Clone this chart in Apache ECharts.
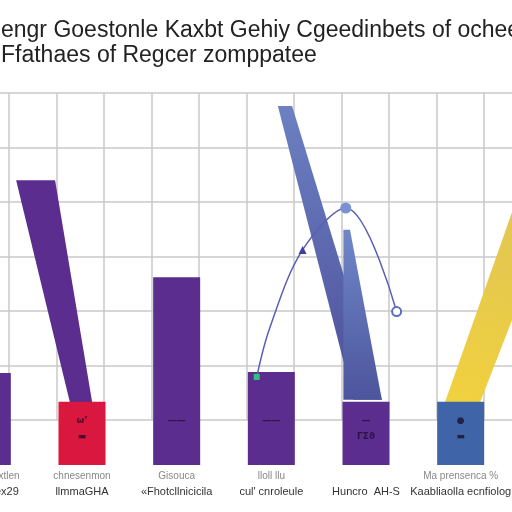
<!DOCTYPE html>
<html><head><meta charset="utf-8">
<script src="https://cdn.jsdelivr.net/npm/echarts@6/dist/echarts.min.js"></script>
<style>html,body{margin:0;padding:0;background:#fff}#c{width:512px;height:512px}</style>
</head><body><div id="c"></div>
<script>
const titleLines = ['engr Goestonle Kaxbt Gehiy Cgeedinbets of ocheee', 'Ffathaes of Regcer zomppatee'];
const labelTop = ['Grxhxheaxtlen', 'chnesenmon', 'Gisouca', 'lloll llu', '', 'Ma prensenca %'];
const labelBottom = ['Gnhdonex29', 'llmmaGHA', '\u00abFhotcllnicicila', "cul' cnroleule", 'Huncro  AH-S', 'Kaabliaolla ecnfiolog'];
const categories = labelTop.map((t, i) => t + '|' + labelBottom[i]);
const barValues = [24.7, 17, 50.5, 25, 17, 17];
const barColors = ['#5b2d8e', '#d9173f', '#5b2d8e', '#5b2d8e', '#5b2d8e', '#3f65a8'];
const barMarkTop = [' ', '\u03c9\u2019', '\u2014\u2014', '\u2014\u2014', '\u2014', '\u25cf'];
const barMarkBottom = [' ', '\u25ac', ' ', ' ', '\u0393\u03a3\u03d1', '\u25ac'];
// decorative slanted shapes (in grid-2 data units)
const slantPurple = [[1.15, 4.40], [1.97, 4.40], [2.75, 0.33], [2.28, 0.33]];
const slantBlue = [[6.66, 5.76], [6.96, 5.76], [8.85, 0.37], [8.25, 0.37]];
const slantBlueNarrow = [[8.04, 3.49], [8.18, 3.49], [8.85, 0.37], [8.04, 0.37]];
const slantYellow = [[10.18, 0.33], [12.05, 4.95], [12.6, 4.95], [12.6, 4.09], [10.92, 0.33]];
const curveX = [6.215, 6.49, 7.18, 8.09, 9.16];
const curveY = [0.79, 1.69, 3.12, 3.89, 1.99];

const shapes = [
  {pts: slantPurple, color: '#5b2d8e'},
  {pts: slantBlue, color: new echarts.graphic.LinearGradient(0,0,0,1,[{offset:0,color:'#6c80c2'},{offset:1,color:'#4d4f99'}])},
  {pts: slantBlueNarrow, color: new echarts.graphic.LinearGradient(0,0,0,1,[{offset:0,color:'#6f87c8'},{offset:1,color:'#4d559d'}])},
  {pts: slantYellow, color: new echarts.graphic.LinearGradient(0,1,1,0,[{offset:0,color:'#f1d13e'},{offset:1,color:'#dcc25a'}])}
];

const chart = echarts.init(document.getElementById('c'));
chart.setOption({
  animation: false,
  backgroundColor: '#ffffff',
  title: {
    text: titleLines.join('\n'),
    left: -4, top: 13,
    textStyle: {fontFamily: 'Liberation Sans', fontSize: 23, fontWeight: 'normal', color: '#222', lineHeight: 25}
  },
  grid: [
    {left: -60, right: 4, top: 93, bottom: 47, outerBoundsMode: 'none', containLabel: false},
    {left: -38.5, width: 570, top: 93, height: 327, outerBoundsMode: 'none', containLabel: false}
  ],
  xAxis: [
    {type: 'category', gridIndex: 0, data: categories,
     axisLine: {show: false}, axisTick: {show: false}, splitLine: {show: false},
     axisLabel: {margin: 4, interval: 0,
       formatter: v => { const p = v.split('|'); return '{a|' + p[0] + '}\n{b|' + p[1] + '}'; },
       rich: {
         a: {fontFamily: 'Liberation Sans', fontSize: 10, color: '#888', lineHeight: 15},
         b: {fontFamily: 'Liberation Sans', fontSize: 11, color: '#333', lineHeight: 15}
       }}},
    {type: 'value', gridIndex: 1, min: 0, max: 12, interval: 1,
     axisLine: {show: false}, axisTick: {show: false}, axisLabel: {show: false},
     splitLine: {show: true, lineStyle: {color: '#c9c9c9', width: 1.5}}}
  ],
  yAxis: [
    {type: 'value', gridIndex: 0, min: 0, max: 100, show: false, splitLine: {show: false}},
    {type: 'value', gridIndex: 1, min: 0, max: 6, interval: 1,
     axisLine: {show: false}, axisTick: {show: false}, axisLabel: {show: false},
     splitLine: {show: true, lineStyle: {color: '#c9c9c9', width: 1.5}}}
  ],
  series: [
    {type: 'custom', xAxisIndex: 1, yAxisIndex: 1, z: 3, clip: false,
     data: shapes.map((s, i) => i),
     renderItem: (params, api) => {
       const s = shapes[params.dataIndex];
       return {type: 'polygon', shape: {points: s.pts.map(p => api.coord(p))}, style: {fill: s.color}};
     }},
    {type: 'bar', xAxisIndex: 0, yAxisIndex: 0, barWidth: 47, z: 4,
     label: {show: true, position: 'insideBottom', distance: 20,
       formatter: p => '{m|' + barMarkTop[p.dataIndex] + '}\n{m|' + barMarkBottom[p.dataIndex] + '}',
       rich: {m: {fontFamily: 'DejaVu Sans', fontSize: 9, fontWeight: 'bold', color: 'rgba(30,10,40,0.75)', lineHeight: 16, align: 'center'}}},
     data: barValues.map((v, i) => ({value: v, itemStyle: {color: barColors[i]}}))},
    {type: 'line', xAxisIndex: 1, yAxisIndex: 1, smooth: 0.35, z: 5,
     lineStyle: {color: '#5a5fb5', width: 1.5},
     data: curveX.map((x, i) => {
       const styles = [
         {symbol: 'rect', symbolSize: 6, itemStyle: {color: '#2fc27a'}},
         {symbol: 'none'},
         {symbol: 'triangle', symbolSize: 8, itemStyle: {color: '#3b3fa0'}},
         {symbol: 'circle', symbolSize: 11, itemStyle: {color: '#7b90d2'}},
         {symbol: 'emptyCircle', symbolSize: 9, itemStyle: {color: '#5a6fbd', borderWidth: 2}}
       ];
       return Object.assign({value: [x, curveY[i]]}, styles[i]);
     })}
  ]
});
</script></body></html>
